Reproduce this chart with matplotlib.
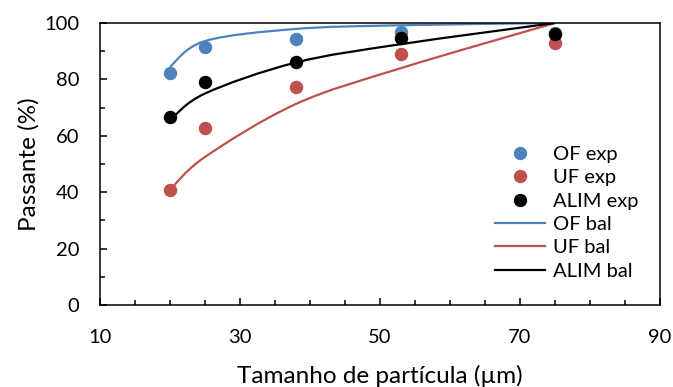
import matplotlib
matplotlib.use('Agg')
import matplotlib.pyplot as plt
from matplotlib.path import Path
from matplotlib.patches import PathPatch
from matplotlib.lines import Line2D
from matplotlib.ticker import MultipleLocator

plt.rcParams['font.family'] = ['Lato', 'DejaVu Sans']

tamanho = [20, 25, 38, 53, 75]

of_exp = [82.3, 91.5, 94.3, 96.8, 96.6]
uf_exp = [40.8, 62.8, 77.3, 89.0, 93.0]
alim_exp = [66.7, 79.0, 86.0, 94.7, 96.0]

of_bal = [84.5, 93.6, 97.9, 99.2, 100.0]
uf_bal = [40.8, 52.5, 71.3, 84.0, 100.0]
alim_bal = [65.5, 75.0, 86.0, 92.5, 100.0]

xticks = [10, 30, 50, 70, 90]

AZUL = '#4F81BD'
VERMELHO = '#C0504D'
PRETO = '#000000'


def curva_suave(xs, ys):
    # curva tipo "linha suavizada" do Excel (bezier cubica)
    pts = list(zip(xs, ys))
    n = len(pts)
    verts = [pts[0]]
    codes = [Path.MOVETO]
    for i in range(n - 1):
        p0 = pts[i - 1] if i > 0 else pts[i]
        p1 = pts[i]
        p2 = pts[i + 1]
        p3 = pts[i + 2] if i + 2 < n else pts[i + 1]
        c1 = (p1[0] + (p2[0] - p0[0]) / 6, p1[1] + (p2[1] - p0[1]) / 6)
        c2 = (p2[0] - (p3[0] - p1[0]) / 6, p2[1] - (p3[1] - p1[1]) / 6)
        verts += [c1, c2, p2]
        codes += [Path.CURVE4] * 3
    return Path(verts, codes)


fig = plt.figure(figsize=(6.73, 3.87), dpi=100)
ax = fig.add_axes([100 / 673, 1 - 305 / 387, 560 / 673, 282 / 387])

for ys, cor in [(of_bal, AZUL), (uf_bal, VERMELHO), (alim_bal, PRETO)]:
    ax.add_patch(PathPatch(curva_suave(tamanho, ys), facecolor='none',
                           edgecolor=cor, linewidth=1.6, zorder=2))

ax.scatter(tamanho, of_exp, s=75, color=AZUL, zorder=3)
ax.scatter(tamanho, uf_exp, s=75, color=VERMELHO, zorder=3)
ax.scatter(tamanho, alim_exp, s=75, color=PRETO, zorder=3)

ax.set_xlim(10, 90)
ax.set_ylim(0, 100)
ax.set_xticks(xticks)
ax.xaxis.set_minor_locator(MultipleLocator(5))
ax.yaxis.set_major_locator(MultipleLocator(20))
ax.yaxis.set_minor_locator(MultipleLocator(10))
ax.tick_params(which='both', direction='in', width=1.1, labelsize=14.5)
ax.tick_params(which='major', length=5)
ax.tick_params(which='minor', length=3.6)
ax.tick_params(axis='x', which='major', pad=17)
ax.tick_params(axis='y', which='major', pad=15)
for sp in ax.spines.values():
    sp.set_linewidth(1.1)

ax.set_xlabel('Tamanho de partícula (µm)', fontsize=17.5, labelpad=14)
ax.set_ylabel('Passante (%)', fontsize=17.5, labelpad=3)

handles = [
    Line2D([], [], linestyle='none', marker='o', markersize=8.6, color=AZUL),
    Line2D([], [], linestyle='none', marker='o', markersize=8.6, color=VERMELHO),
    Line2D([], [], linestyle='none', marker='o', markersize=8.6, color=PRETO),
    Line2D([], [], color=AZUL, linewidth=1.6),
    Line2D([], [], color=VERMELHO, linewidth=1.6),
    Line2D([], [], color=PRETO, linewidth=1.6),
]
rotulos = ['OF exp', 'UF exp', 'ALIM exp', 'OF bal', 'UF bal', 'ALIM bal']
ax.legend(handles, rotulos, loc='lower left', bbox_to_anchor=(395 / 560, 0.09),
          frameon=False, fontsize=14.5, handlelength=2.5, handletextpad=0.4,
          labelspacing=0.31, borderaxespad=0, borderpad=0)

fig.savefig('out.png', dpi=100)
